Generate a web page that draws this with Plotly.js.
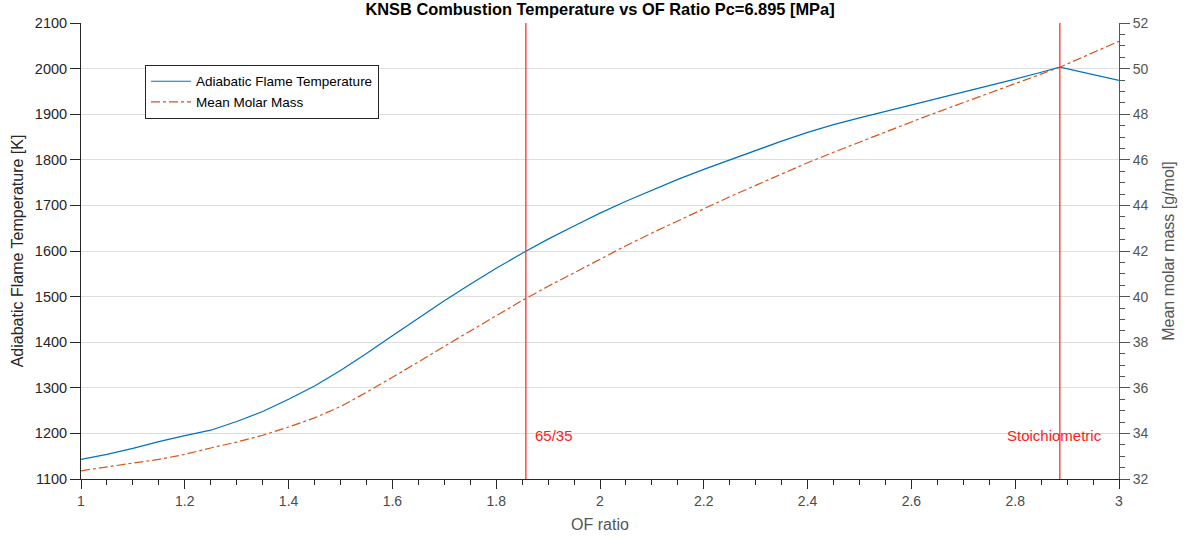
<!DOCTYPE html>
<html>
<head>
<meta charset="utf-8">
<script src="https://cdn.plot.ly/plotly-3.0.1.min.js"></script>
<style>html,body{margin:0;padding:0;background:#fff;}#chart{width:1192px;height:541px;}</style>
</head>
<body>
<div id="chart"></div>
<script>
// OF ratio samples
const ofRatio = [1.00,1.05,1.10,1.15,1.20,1.25,1.30,1.35,1.40,1.45,1.50,1.55,1.60,1.65,1.70,1.75,1.80,1.85,1.90,1.95,2.00,2.05,2.10,2.15,2.20,2.25,2.30,2.35,2.40,2.45,2.50,2.55,2.60,2.65,2.70,2.75,2.80,2.85,2.886,3.00];
// Adiabatic flame temperature [K]
const flameTemp = [1143,1154,1167,1182,1195,1207,1226,1248,1275,1304,1338,1375,1414,1453,1491,1527,1562,1595,1626,1655,1683,1709,1733,1757,1779,1800,1821,1841,1860,1877,1892,1906,1920,1934,1948,1962,1977,1992,2003,1974];
// Mean molar mass [g/mol]
const molarMass = [32.36,32.54,32.70,32.86,33.08,33.36,33.62,33.92,34.28,34.68,35.18,35.80,36.46,37.13,37.82,38.50,39.17,39.83,40.45,41.05,41.65,42.23,42.79,43.33,43.86,44.38,44.88,45.38,45.87,46.33,46.78,47.22,47.66,48.09,48.51,48.93,49.35,49.77,50.06,51.20];
// Reference OF ratios
const refRatios = [0.65/0.35, 2.886];
const refLabels = ['65/35', 'Stoichiometric'];
const refLabelX = [1.877, 2.786];
const refLabelT = [1195, 1195];

const FONT = 'Liberation Sans, Arial, Helvetica, sans-serif';

const traces = [
  {x: ofRatio, y: flameTemp, type: 'scatter', mode: 'lines', name: 'Adiabatic Flame Temperature',
   line: {color: '#0072BD', width: 1.2}, yaxis: 'y'},
  {x: ofRatio, y: molarMass, type: 'scatter', mode: 'lines', name: 'Mean Molar Mass',
   line: {color: '#D95319', width: 1.2, dash: 'dashdot'}, yaxis: 'y2'}
];

const shapes = refRatios.map(v => ({
  type: 'line', xref: 'x', yref: 'paper', x0: v, x1: v, y0: 0, y1: 1,
  line: {color: '#FF3030', width: 1.3}
}));

const annotations = refLabels.map((t, i) => ({
  text: t, x: refLabelX[i], y: refLabelT[i], xref: 'x', yref: 'y',
  xanchor: 'left', yanchor: 'middle', showarrow: false, xshift: -3,
  font: {family: FONT, size: 15, color: '#FF2020'}
}));

const layout = {
  width: 1192, height: 541,
  margin: {l: 81, r: 73, t: 23, b: 62},
  paper_bgcolor: '#fff', plot_bgcolor: '#fff',
  font: {family: FONT, size: 14, color: '#262626'},
  title: {text: '<b>KNSB Combustion Temperature vs OF Ratio Pc=6.895 [MPa]</b>',
          font: {family: FONT, size: 16.4, color: '#000'},
          x: 0.5, xref: 'paper', y: 0.982, yref: 'container', yanchor: 'middle'},
  showlegend: true,
  legend: {x: 0.0617, y: 0.908, xanchor: 'left', yanchor: 'top',
           bgcolor: '#fff', bordercolor: '#262626', borderwidth: 1,
           font: {family: FONT, size: 13.5, color: '#000'}, itemwidth: 40,
           tracegroupgap: 0},
  xaxis: {range: [1, 3], dtick: 0.2, tick0: 1, ticks: 'outside', ticklen: 9, tickcolor: '#262626',
          showline: true, linecolor: '#262626', linewidth: 1, showgrid: false, zeroline: false,
          tickfont: {family: FONT, size: 14, color: '#4a4a4a'},
          minor: {dtick: 0.05, ticks: 'outside', ticklen: 5, tickcolor: '#262626', showgrid: false},
          title: {text: 'OF ratio', font: {family: FONT, size: 16, color: '#555'}, standoff: 11}},
  yaxis: {range: [1100, 2100], dtick: 100, ticks: 'outside', ticklen: 10, tickcolor: '#262626',
          showline: true, linecolor: '#262626', linewidth: 1, showgrid: true, gridcolor: '#dedede',
          zeroline: false, tickfont: {family: FONT, size: 14.5, color: '#262626'},
          title: {text: 'Adiabatic Flame Temperature [K]', font: {family: FONT, size: 16, color: '#262626'}, standoff: 7}},
  yaxis2: {range: [32, 52], dtick: 2, overlaying: 'y', side: 'right', ticks: 'outside', ticklen: 10,
           tickcolor: '#555', showline: true, linecolor: '#555', linewidth: 1, showgrid: false,
           zeroline: false, tickfont: {family: FONT, size: 14, color: '#555'},
           minor: {dtick: 0.5, ticks: 'outside', ticklen: 5, tickcolor: '#555', showgrid: false},
           title: {text: 'Mean molar mass [g/mol]', font: {family: FONT, size: 16, color: '#555'}, standoff: 15}},
  shapes: shapes,
  annotations: annotations
};

Plotly.newPlot('chart', traces, layout, {displayModeBar: false, staticPlot: true});
</script>
</body>
</html>
